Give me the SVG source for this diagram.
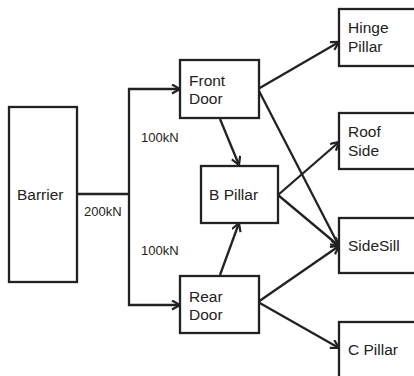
<svg xmlns="http://www.w3.org/2000/svg" width="414" height="376" viewBox="0 0 414 376">
<style>
.box{fill:#fff;stroke:#222;stroke-width:2.3}
.t{font-family:"Liberation Sans",Arial,sans-serif;font-size:15.5px;fill:#222}
.l{font-family:"Liberation Sans",Arial,sans-serif;font-size:13px;fill:#222}
.c{fill:none;stroke:#222;stroke-width:2.3}
</style>
<defs>
<marker id="a" markerUnits="userSpaceOnUse" markerWidth="12" markerHeight="12" refX="9" refY="5" orient="auto">
<path d="M1,0.5 L9,5 L1,9.5" fill="none" stroke="#222" stroke-width="2.2"/>
</marker>
</defs>
<rect width="414" height="376" fill="#fff"/>
<g id="connectors">
<path class="c" d="M77,194 H129"/>
<path class="c" d="M129,194 V89 H180" marker-end="url(#a)"/>
<path class="c" d="M129,194 V305 H180" marker-end="url(#a)"/>
<line class="c" x1="220" y1="119" x2="239" y2="165" marker-end="url(#a)"/>
<line class="c" x1="220" y1="275" x2="239" y2="223" marker-end="url(#a)"/>
<line class="c" x1="258" y1="89" x2="339" y2="42" marker-end="url(#a)"/>
<line class="c" x1="258" y1="89" x2="339" y2="246" marker-end="url(#a)"/>
<line class="c" x1="278" y1="195" x2="339" y2="142" marker-end="url(#a)"/>
<line class="c" x1="278" y1="195" x2="339" y2="246" marker-end="url(#a)"/>
<line class="c" x1="258" y1="302" x2="339" y2="246" marker-end="url(#a)"/>
<line class="c" x1="258" y1="302" x2="339" y2="348" marker-end="url(#a)"/>
<text class="l" x="141" y="142">100kN</text>
<text class="l" x="84" y="216">200kN</text>
<text class="l" x="141" y="255">100kN</text>
</g>
<g id="barrier"><rect class="box" x="9" y="107" width="68" height="175"/><text class="t" x="17" y="200">Barrier</text></g>
<g id="front-door"><rect class="box" x="180" y="60" width="79" height="58"/><text class="t" x="189" y="86">Front</text><text class="t" x="189" y="104">Door</text></g>
<g id="b-pillar"><rect class="box" x="201" y="166" width="77" height="57"/><text class="t" x="209" y="200">B Pillar</text></g>
<g id="rear-door"><rect class="box" x="180" y="276" width="79" height="57"/><text class="t" x="189" y="302">Rear</text><text class="t" x="189" y="320">Door</text></g>
<g id="hinge-pillar"><rect class="box" x="339" y="9" width="90" height="57"/><text class="t" x="348" y="33">Hinge</text><text class="t" x="348" y="52">Pillar</text></g>
<g id="roof-side"><rect class="box" x="339" y="113" width="90" height="56"/><text class="t" x="348" y="137">Roof</text><text class="t" x="348" y="156">Side</text></g>
<g id="side-sill"><rect class="box" x="339" y="218" width="90" height="55"/><text class="t" x="348" y="251">SideSill</text></g>
<g id="c-pillar"><rect class="box" x="339" y="322" width="90" height="70"/><text class="t" x="348" y="355">C Pillar</text></g>
</svg>
